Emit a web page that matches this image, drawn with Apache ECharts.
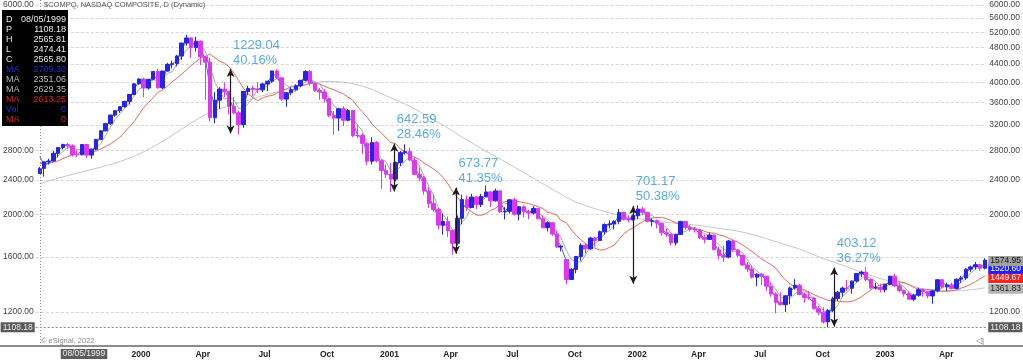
<!DOCTYPE html>
<html><head><meta charset="utf-8">
<script src="https://cdn.jsdelivr.net/npm/echarts@6/dist/echarts.min.js"></script>
<style>html,body{margin:0;padding:0;background:#fff}#c{width:1023px;height:361px}</style>
</head><body><div id="c"></div><script>
// ---------- data (weekly bars) ----------
const dates = ['1999-08-05','1999-08-11','1999-08-18','1999-08-25','1999-09-01','1999-09-08','1999-09-15','1999-09-22','1999-09-29','1999-10-06','1999-10-13','1999-10-20','1999-10-27','1999-11-03','1999-11-10','1999-11-17','1999-11-24','1999-12-01','1999-12-08','1999-12-15','1999-12-22','1999-12-29',
'2000-01-05','2000-01-12','2000-01-19','2000-01-26','2000-02-02','2000-02-09','2000-02-16','2000-02-23','2000-03-01','2000-03-08','2000-03-15','2000-03-22','2000-03-29','2000-04-05','2000-04-12','2000-04-19','2000-04-26','2000-05-03','2000-05-10','2000-05-17','2000-05-24','2000-05-31','2000-06-07','2000-06-14','2000-06-21','2000-06-28','2000-07-05','2000-07-12','2000-07-19','2000-07-26','2000-08-02','2000-08-09','2000-08-16','2000-08-23','2000-08-30','2000-09-06','2000-09-13','2000-09-20','2000-09-27','2000-10-04','2000-10-11','2000-10-18','2000-10-25','2000-11-01','2000-11-08','2000-11-15','2000-11-22','2000-11-29','2000-12-06','2000-12-13','2000-12-20','2000-12-27',
'2001-01-03','2001-01-10','2001-01-17','2001-01-24','2001-01-31','2001-02-07','2001-02-14','2001-02-21','2001-02-28','2001-03-07','2001-03-14','2001-03-21','2001-03-28','2001-04-04','2001-04-11','2001-04-18','2001-04-25','2001-05-02','2001-05-09','2001-05-16','2001-05-23','2001-05-30','2001-06-06','2001-06-13','2001-06-20','2001-06-27','2001-07-04','2001-07-11','2001-07-18','2001-07-25','2001-08-01','2001-08-08','2001-08-15','2001-08-22','2001-08-29','2001-09-05','2001-09-10','2001-09-19','2001-09-26','2001-10-03','2001-10-10','2001-10-17','2001-10-24','2001-10-31','2001-11-07','2001-11-14','2001-11-21','2001-11-28','2001-12-05','2001-12-12','2001-12-19','2001-12-26',
'2002-01-02','2002-01-09','2002-01-16','2002-01-23','2002-01-30','2002-02-06','2002-02-13','2002-02-20','2002-02-27','2002-03-06','2002-03-13','2002-03-20','2002-03-27','2002-04-03','2002-04-10','2002-04-17','2002-04-24','2002-05-01','2002-05-08','2002-05-15','2002-05-22','2002-05-29','2002-06-05','2002-06-12','2002-06-19','2002-06-26','2002-07-03','2002-07-10','2002-07-17','2002-07-24','2002-07-31','2002-08-07','2002-08-14','2002-08-21','2002-08-28','2002-09-04','2002-09-11','2002-09-18','2002-09-25','2002-10-02','2002-10-09','2002-10-16','2002-10-23','2002-10-30','2002-11-06','2002-11-13','2002-11-20','2002-11-27','2002-12-04','2002-12-11','2002-12-18','2002-12-25',
'2003-01-01','2003-01-08','2003-01-15','2003-01-22','2003-01-29','2003-02-05','2003-02-12','2003-02-19','2003-02-26','2003-03-05','2003-03-12','2003-03-19','2003-03-26','2003-04-02','2003-04-09','2003-04-16','2003-04-23','2003-04-30','2003-05-07','2003-05-14','2003-05-21','2003-05-28'];

const opens = [2480,2547,2637,2648,2758,2843,2887,2869,2740,2736,2887,2731,2817,2966,3102,3221,3369,3448,3520,3620,3753,3969,
4069,3882,4064,4235,3887,4244,4395,4411,4590,4914,5048,4798,4963,4573,4446,3321,3643,3860,3816,3529,3410,3205,3813,3874,3860,3845,3966,4024,4246,4095,3663,3787,3849,3930,4043,4234,3978,3835,3803,3673,3361,3316,3483,3278,3451,3028,3027,2904,2645,2917,2653,2517,
2471,2408,2626,2770,2782,2661,2470,2425,2262,2118,2053,1891,1928,1840,1720,1961,2163,2075,2192,2107,2199,2252,2149,2264,2028,2034,2161,2004,2084,2029,2015,2066,1956,1867,1916,1805,1687,1580,1423,1499,1605,1703,1671,1768,1746,1828,1898,1903,1930,2021,1953,1945,
1987,2059,2022,1930,1937,1911,1818,1805,1724,1802,1929,1868,1851,1845,1770,1756,1796,1663,1613,1600,1741,1661,1615,1535,1504,1440,1463,1448,1374,1319,1262,1247,1306,1361,1380,1315,1295,1291,1221,1199,1139,1210,1287,1331,1360,1359,1411,1468,1479,1422,1362,1363,
1348,1387,1448,1376,1342,1321,1283,1310,1349,1337,1305,1340,1421,1369,1383,1358,1425,1434,1502,1520,1538,1510];

const highs = [2566,2640,2680,2790,2850,2900,2915,2890,2800,2890,2900,2830,2970,3110,3225,3375,3450,3530,3630,3760,3975,4090,
4100,4070,4240,4300,4250,4430,4480,4620,4920,5132,5060,5080,4980,4600,4550,3800,3900,4000,3830,3700,3450,3820,3930,3930,4000,3990,4030,4250,4290,4100,3800,3900,3960,4050,4260,4260,3990,3880,3860,3680,3440,3500,3530,3480,3460,3200,3060,2920,3000,2940,2670,2600,
2620,2640,2790,2890,2840,2700,2560,2450,2310,2220,2070,2010,1980,1850,1990,2220,2210,2230,2200,2230,2330,2260,2290,2270,2080,2170,2180,2090,2100,2050,2090,2070,1990,1930,1920,1840,1700,1580,1510,1610,1720,1720,1780,1780,1840,1910,1940,1940,2060,2030,1990,2000,
2098,2080,2030,1960,1940,1915,1860,1810,1810,1935,1930,1890,1870,1850,1800,1820,1800,1690,1700,1750,1750,1670,1620,1560,1530,1470,1470,1450,1400,1330,1330,1310,1370,1425,1390,1330,1340,1300,1240,1230,1220,1300,1340,1370,1420,1415,1470,1490,1521,1430,1400,1390,
1390,1450,1467,1400,1350,1340,1320,1360,1350,1340,1350,1425,1425,1400,1400,1430,1450,1510,1530,1560,1545,1590];

const lows = [2474,2440,2600,2640,2700,2810,2820,2710,2700,2730,2690,2680,2800,2960,3090,3200,3340,3410,3500,3560,3740,3950,
3700,3850,4040,3870,3860,4230,4300,4350,4500,4850,4550,4700,4380,3649,3260,3227,3480,3700,3380,3380,3042,3150,3740,3720,3780,3800,3820,3990,4070,3630,3520,3740,3830,3900,4020,3930,3800,3650,3600,3330,3040,3100,3180,3260,3000,2980,2750,2590,2600,2630,2290,2420,
2250,2380,2580,2740,2650,2460,2380,2220,2070,2030,1850,1800,1780,1620,1700,1900,2040,2070,2060,2080,2190,2080,2140,2020,1950,2010,1990,1940,1970,1950,2000,1950,1860,1830,1790,1680,1650,1387,1420,1470,1570,1630,1660,1690,1740,1800,1860,1850,1900,1940,1920,1940,
1950,2000,1920,1880,1860,1790,1780,1700,1700,1800,1850,1830,1820,1760,1720,1750,1660,1580,1560,1590,1650,1600,1530,1480,1430,1375,1380,1340,1300,1192,1240,1200,1250,1350,1310,1260,1280,1215,1180,1130,1108.18,1200,1270,1300,1340,1320,1400,1440,1410,1350,1350,1330,
1330,1380,1370,1330,1300,1280,1270,1300,1300,1290,1253,1330,1360,1340,1350,1350,1400,1420,1480,1500,1490,1500];

const closes = [2547,2637,2648,2758,2843,2887,2869,2740,2736,2887,2731,2817,2966,3102,3221,3369,3448,3520,3620,3753,3969,4069,
3882,4064,4235,3887,4244,4395,4411,4590,4914,5048,4798,4963,4573,4446,3321,3643,3860,3816,3529,3410,3205,3813,3874,3860,3845,3966,4024,4246,4095,3663,3787,3849,3930,4043,4234,3978,3835,3803,3673,3361,3316,3483,3278,3451,3028,3027,2904,2645,2917,2653,2517,2471,
2408,2626,2770,2782,2661,2470,2425,2262,2118,2053,1891,1928,1840,1720,1961,2163,2075,2192,2107,2199,2252,2149,2264,2028,2034,2161,2004,2084,2029,2015,2066,1956,1867,1916,1805,1687,1695,1423,1499,1605,1703,1671,1768,1746,1828,1898,1903,1930,2021,1953,1945,1987,
2059,2022,1930,1937,1911,1818,1805,1724,1802,1929,1868,1851,1845,1770,1756,1796,1663,1613,1600,1741,1661,1615,1535,1504,1440,1463,1448,1374,1319,1262,1247,1306,1361,1380,1315,1295,1291,1221,1199,1139,1210,1287,1331,1360,1359,1411,1468,1479,1422,1362,1363,1348,
1387,1448,1376,1342,1321,1283,1310,1349,1337,1305,1340,1421,1369,1383,1358,1425,1434,1502,1520,1538,1510,1574.95];

const maBlue = [2709.30,2600,2610,2690,2800,2860,2880,2810,2740,2800,2800,2770,2890,3030,3160,3290,3410,3480,3570,3680,3860,4020,
3980,3970,4150,4060,4070,4320,4400,4500,4750,4980,4920,4880,4770,4510,3880,3480,3750,3840,3670,3470,3310,3510,3840,3870,3850,3910,4000,4140,4170,3880,3730,3820,3890,3990,4140,4110,3910,3820,3740,3520,3340,3400,3380,3360,3240,3030,2970,2770,2780,2790,2590,2490,
2440,2520,2700,2780,2720,2570,2450,2340,2190,2090,1970,1910,1880,1780,1840,2060,2120,2130,2150,2150,2230,2200,2210,2150,2030,2100,2080,2040,2060,2020,2040,2010,1910,1890,1860,1750,1700,1560,1460,1550,1650,1690,1720,1760,1790,1860,1900,1920,1980,1990,1950,1970,
2020,2040,1980,1930,1920,1860,1810,1760,1760,1870,1900,1860,1850,1810,1760,1780,1730,1640,1610,1670,1700,1640,1580,1520,1470,1450,1460,1410,1350,1290,1250,1280,1330,1370,1350,1310,1290,1260,1210,1170,1170,1250,1310,1350,1360,1390,1440,1470,1450,1390,1360,1360,
1370,1420,1410,1360,1330,1300,1300,1330,1340,1320,1320,1380,1400,1380,1370,1390,1430,1470,1510,1530,1520,1520.60];

const maGray = [2629.35,2620,2610,2650,2720,2780,2840,2840,2810,2810,2770,2790,2850,2900,3030,3160,3290,3390,3490,3590,3720,3850,
3920,4000,4060,4020,4110,4190,4230,4410,4580,4740,4840,4930,4850,4700,4330,4000,3820,3660,3710,3650,3490,3490,3580,3690,3850,3890,3920,4020,4080,4010,3950,3850,3810,3900,4010,4050,4020,3960,3820,3670,3540,3460,3360,3380,3310,3200,3100,2900,2870,2780,2680,2640,
2510,2510,2570,2650,2710,2670,2580,2450,2320,2210,2080,2000,1930,1840,1860,1920,1980,2100,2130,2140,2190,2180,2220,2170,2120,2120,2060,2070,2070,2030,2050,2020,1980,1950,1890,1820,1780,1650,1580,1560,1560,1620,1690,1720,1750,1810,1840,1890,1940,1950,1960,1980,
1990,2000,2000,1990,1950,1900,1870,1810,1790,1820,1830,1860,1870,1830,1810,1790,1750,1710,1670,1650,1650,1650,1640,1580,1520,1490,1460,1430,1400,1350,1300,1280,1290,1320,1340,1340,1320,1280,1250,1210,1190,1210,1240,1300,1330,1370,1400,1430,1450,1430,1410,1370,
1370,1390,1390,1390,1370,1330,1310,1320,1320,1330,1330,1350,1360,1380,1380,1380,1400,1430,1470,1500,1520,1540];

const maRed = [2613.25,2615,2620,2630,2650,2680,2710,2730,2740,2750,2760,2774,2792,2823,2858,2896,2944,3002,3080,3168,3255,3379,
3504,3595,3692,3793,3845,3924,4012,4091,4175,4269,4367,4459,4549,4582,4638,4546,4471,4416,4338,4200,4036,3877,3762,3692,3633,3686,3718,3734,3777,3834,3859,3917,3921,3927,3945,3984,3985,3966,3922,3880,3849,3802,3766,3700,3641,3521,3426,3332,3217,3141,3070,2990,
2920,2900,2820,2780,2740,2700,2670,2620,2580,2540,2490,2430,2350,2260,2190,2120,2070,2030,1994,1993,2008,2044,2066,2108,2139,2146,2146,2139,2128,2120,2102,2083,2064,2024,2013,1990,1943,1912,1846,1793,1752,1716,1687,1677,1660,1663,1684,1704,1755,1807,1842,1866,
1898,1927,1955,1965,1969,1970,1958,1937,1914,1900,1894,1875,1858,1849,1832,1817,1815,1800,1789,1769,1750,1730,1706,1675,1648,1617,1584,1562,1538,1510,1462,1421,1390,1372,1360,1348,1331,1315,1300,1288,1275,1272,1270,1267,1265,1269,1281,1299,1324,1347,1369,1384,
1390,1396,1405,1406,1400,1385,1365,1354,1353,1350,1346,1341,1338,1338,1342,1346,1360,1372,1387,1406,1429,1449.67];

const ma200Dates = ['1999-08-05','1999-09-01','1999-10-01','1999-11-01','1999-12-01','2000-01-01','2000-02-01','2000-03-01','2000-04-01','2000-05-01','2000-06-01','2000-07-01','2000-08-01','2000-09-01','2000-10-01','2000-11-01','2000-12-01','2001-01-01','2001-02-01','2001-03-01','2001-04-01','2001-05-01','2001-06-01','2001-07-01','2001-08-01','2001-09-01','2001-10-01','2001-11-01','2001-12-01','2002-01-01','2002-02-01','2002-03-01','2002-04-01','2002-05-01','2002-06-01','2002-07-01','2002-08-01','2002-09-01','2002-10-01','2002-11-01','2002-12-01','2003-01-01','2003-02-01','2003-03-01','2003-04-01','2003-05-01','2003-05-28'];
const ma200 = [2351.06,2420,2490,2560,2640,2760,2930,3130,3350,3500,3620,3740,3850,3960,4020,3990,3880,3700,3520,3330,3120,2920,2740,2580,2420,2270,2140,2060,2000,1960,1930,1910,1890,1860,1830,1780,1720,1660,1590,1530,1470,1420,1390,1350,1340,1345,1361.83];

const yTicks = [1200,1600,2000,2400,2800,3200,3600,4000,4400,4800,5200,5600,6000];
const rightTicks = [1200,2000,2400,2800,3200,3600,4000,4400,4800,5200,5600,6000];
const leftTicks = [1200,1600,2000,2400,2800,6000];
const xTicks = ['2000-01-01','2000-04-01','2000-07-01','2000-10-01','2001-01-01','2001-04-01','2001-07-01','2001-10-01','2002-01-01','2002-04-01','2002-07-01','2002-10-01','2003-01-01','2003-04-01'];

const annDates = ['2000-05-12','2001-01-08','2001-04-09','2001-12-26','2002-10-18'];
const annLow = [3060.4,2257.9,1629.4,1391.8,1111.4];
const annHigh = [4289.4,2900.5,2303.2,2093.0,1514.5];
const annValue = ['1229.04','642.59','673.77','701.17','403.12'];
const annPct = ['40.16%','28.46%','41.35%','50.38%','36.27%'];

const crossDate = '1999-08-05';
const crossPrice = 1108.18;

const infoLabels = ['D','P','H','L','C','MA','MA','MA','MA','Vol','MA'];
const infoValues = ['08/05/1999','1108.18','2565.81','2474.41','2565.80','2709.30','2351.06','2629.35','2613.25','0','0'];
const infoColors = ['#e8e8e8','#e8e8e8','#e8e8e8','#e8e8e8','#e8e8e8','#2a2ad0','#bdbdbd','#bdbdbd','#e02222','#2a2ad0','#e02222'];

// ---------- chart ----------
const FF = '"Liberation Sans", Arial, sans-serif';
const ts = s => { const p = s.split('-').map(Number); return new Date(p[0], p[1]-1, p[2]).getTime(); };
const fmt = v => Math.round(v).toFixed(2);
const MON = ['Jan','Feb','Mar','Apr','May','Jun','Jul','Aug','Sep','Oct','Nov','Dec'];
const UP = '#2626e2', DOWN = '#dd38ec';
const last = a => a[a.length-1];

const valueLabel = (bg, fg, off) => ({
  show: true, position: 'end', distance: 2, offset: [0, off],
  formatter: p => Number(p.value).toFixed(2),
  backgroundColor: bg, color: fg, fontSize: 8.5, fontFamily: FF,
  padding: [1, 2, 0, 2], lineHeight: 9
});
const hidden = {color: 'rgba(0,0,0,0)', width: 0};

const chart = echarts.init(document.getElementById('c'));
const graphic = [
  {type:'rect', left:0, top:345, shape:{width:1023, height:2}, style:{fill:'#8c8c8c'}, z:50},
  {type:'text', x:44, y:5, style:{text:'$COMPQ, NASDAQ COMPOSITE, D (Dynamic)', font:'7.5px ' + FF, fill:'#555', verticalAlign:'middle'}, z:50},
  {type:'text', x:41, y:341, style:{text:'© eSignal, 2022', font:'7.5px ' + FF, fill:'#8a8a8a', verticalAlign:'middle'}, z:50},
  {type:'text', x:976, y:341, style:{text:'◁|', font:'8px ' + FF, fill:'#777', verticalAlign:'middle'}, z:50},
  {type:'text', x:84, y:354, style:{text:'08/05/1999', font:'8.5px ' + FF, fill:'#eeeeee', backgroundColor:'#5c5c5c', padding:[1,2,0,2], align:'center', verticalAlign:'middle'}, z:50},
  {type:'rect', left:2, top:10, shape:{width:66, height:116}, style:{fill:'#000'}, z:100}
];
infoLabels.forEach((l, i) => {
  const y = 20 + i * 10;
  graphic.push({type:'text', x:6, y:y, style:{text:l, font:'9px ' + FF, fill:infoColors[i], verticalAlign:'middle'}, z:101});
  graphic.push({type:'text', x:66, y:y, style:{text:infoValues[i], font:'9px ' + FF, fill:infoColors[i], align:'right', verticalAlign:'middle'}, z:101});
});

const option = {
  animation: false,
  textStyle: {fontFamily: FF},
  grid: {left: 35, right: 36, top: 0, bottom: 15},
  xAxis: {
    type: 'value', min: ts('1999-07-30'), max: ts('2003-05-30'), scale: true,
    axisLine: {show: false}, axisTick: {show: false}, splitLine: {show: false},
    axisLabel: {
      customValues: xTicks.map(ts),
      formatter: v => { const d = new Date(v); return d.getMonth() === 0 ? String(d.getFullYear()) : MON[d.getMonth()]; },
      fontSize: 8.5, fontWeight: 'bold', color: '#222', margin: 4, fontFamily: FF
    }
  },
  yAxis: [
    {type: 'log', min: 1004, max: 6159, position: 'left',
     axisLine: {show: false}, axisTick: {show: false}, splitLine: {show: false},
     axisLabel: {customValues: leftTicks, formatter: fmt, fontSize: 8.5, color: '#444', margin: 2, fontFamily: FF}},
    {type: 'log', min: 1004, max: 6159, position: 'right',
     axisLine: {show: false}, axisTick: {show: false, customValues: yTicks},
     splitLine: {show: true, lineStyle: {color: '#d6d6d6', type: [3, 2], width: 1}},
     axisLabel: {customValues: rightTicks, formatter: fmt, fontSize: 8.5, color: '#444', margin: 3, fontFamily: FF}}
  ],
  graphic: graphic,
  series: [
    {type: 'line', name: 'MA long', yAxisIndex: 0, z: 2, showSymbol: false, smooth: 0.3, silent: true,
     data: ma200Dates.map((d, i) => [ts(d), ma200[i]]),
     lineStyle: {color: '#c6c6c6', width: 1},
     markLine: {symbol: 'none', silent: true, data: [{yAxis: last(ma200), lineStyle: hidden, label: valueLabel('#b4b4b4', '#222', 1)}]}},
    {type: 'line', name: 'MA red', yAxisIndex: 0, z: 2, showSymbol: false, silent: true,
     data: dates.map((d, i) => [ts(d), maRed[i]]),
     lineStyle: {color: '#e26a58', width: 1},
     markLine: {symbol: 'none', silent: true, data: [{yAxis: last(maRed), lineStyle: hidden, label: valueLabel('#ff2020', '#ffffff', 2)}]}},
    {type: 'line', name: 'MA gray', yAxisIndex: 0, z: 2, showSymbol: false, silent: true,
     data: dates.map((d, i) => [ts(d), maGray[i]]),
     lineStyle: {color: '#a8a8a8', width: 1}},
    {type: 'line', name: 'MA blue', yAxisIndex: 0, z: 2, showSymbol: false, silent: true,
     data: dates.map((d, i) => [ts(d), maBlue[i]]),
     lineStyle: {color: '#4d5ee0', width: 1},
     markLine: {symbol: 'none', silent: true, data: [{yAxis: last(maBlue), lineStyle: hidden, label: valueLabel('#2020ff', '#ffffff', 2)}]}},
    {type: 'candlestick', name: 'price', yAxisIndex: 0, z: 3, barWidth: 4, silent: true,
     data: dates.map((d, i) => [ts(d), opens[i], closes[i], lows[i], highs[i]]),
     itemStyle: {color: UP, color0: DOWN, borderColor: UP, borderColor0: DOWN, borderWidth: 1},
     markLine: {symbol: 'none', silent: true, data: [
       {xAxis: ts(crossDate), lineStyle: {color: '#8a8a8a', type: [1, 2], width: 1}, label: {show: false}},
       {yAxis: crossPrice, lineStyle: {color: '#8a8a8a', type: [2, 2], width: 1}, label: valueLabel('#5a5a5a', '#eeeeee', 0)},
       {yAxis: crossPrice, lineStyle: hidden, label: Object.assign(valueLabel('#5a5a5a', '#eeeeee', 0), {position: 'start', distance: 1})},
       {yAxis: last(closes), lineStyle: hidden, label: valueLabel('#a2a2a2', '#111', 1)}
     ]}},
    {type: 'scatter', name: 'annotations', yAxisIndex: 0, z: 10, symbolSize: 1, silent: true,
     itemStyle: {color: 'rgba(0,0,0,0)'},
     data: annDates.map((d, i) => [ts(d), annHigh[i]]),
     label: {show: true, position: [3, -31], align: 'left', verticalAlign: 'top',
       formatter: p => annValue[p.dataIndex] + '\n' + annPct[p.dataIndex],
       color: '#3196dc', fontSize: 13, lineHeight: 15, fontFamily: FF},
     markLine: {symbol: ['arrow', 'arrow'], symbolSize: [6, 8], silent: true, label: {show: false},
       lineStyle: {color: '#1c1c1c', width: 1.2, type: 'solid'},
       data: annDates.map((d, i) => [{coord: [ts(d), annLow[i]]}, {coord: [ts(d), annHigh[i]]}])}}
  ]
};
chart.setOption(option);
</script></body></html>
